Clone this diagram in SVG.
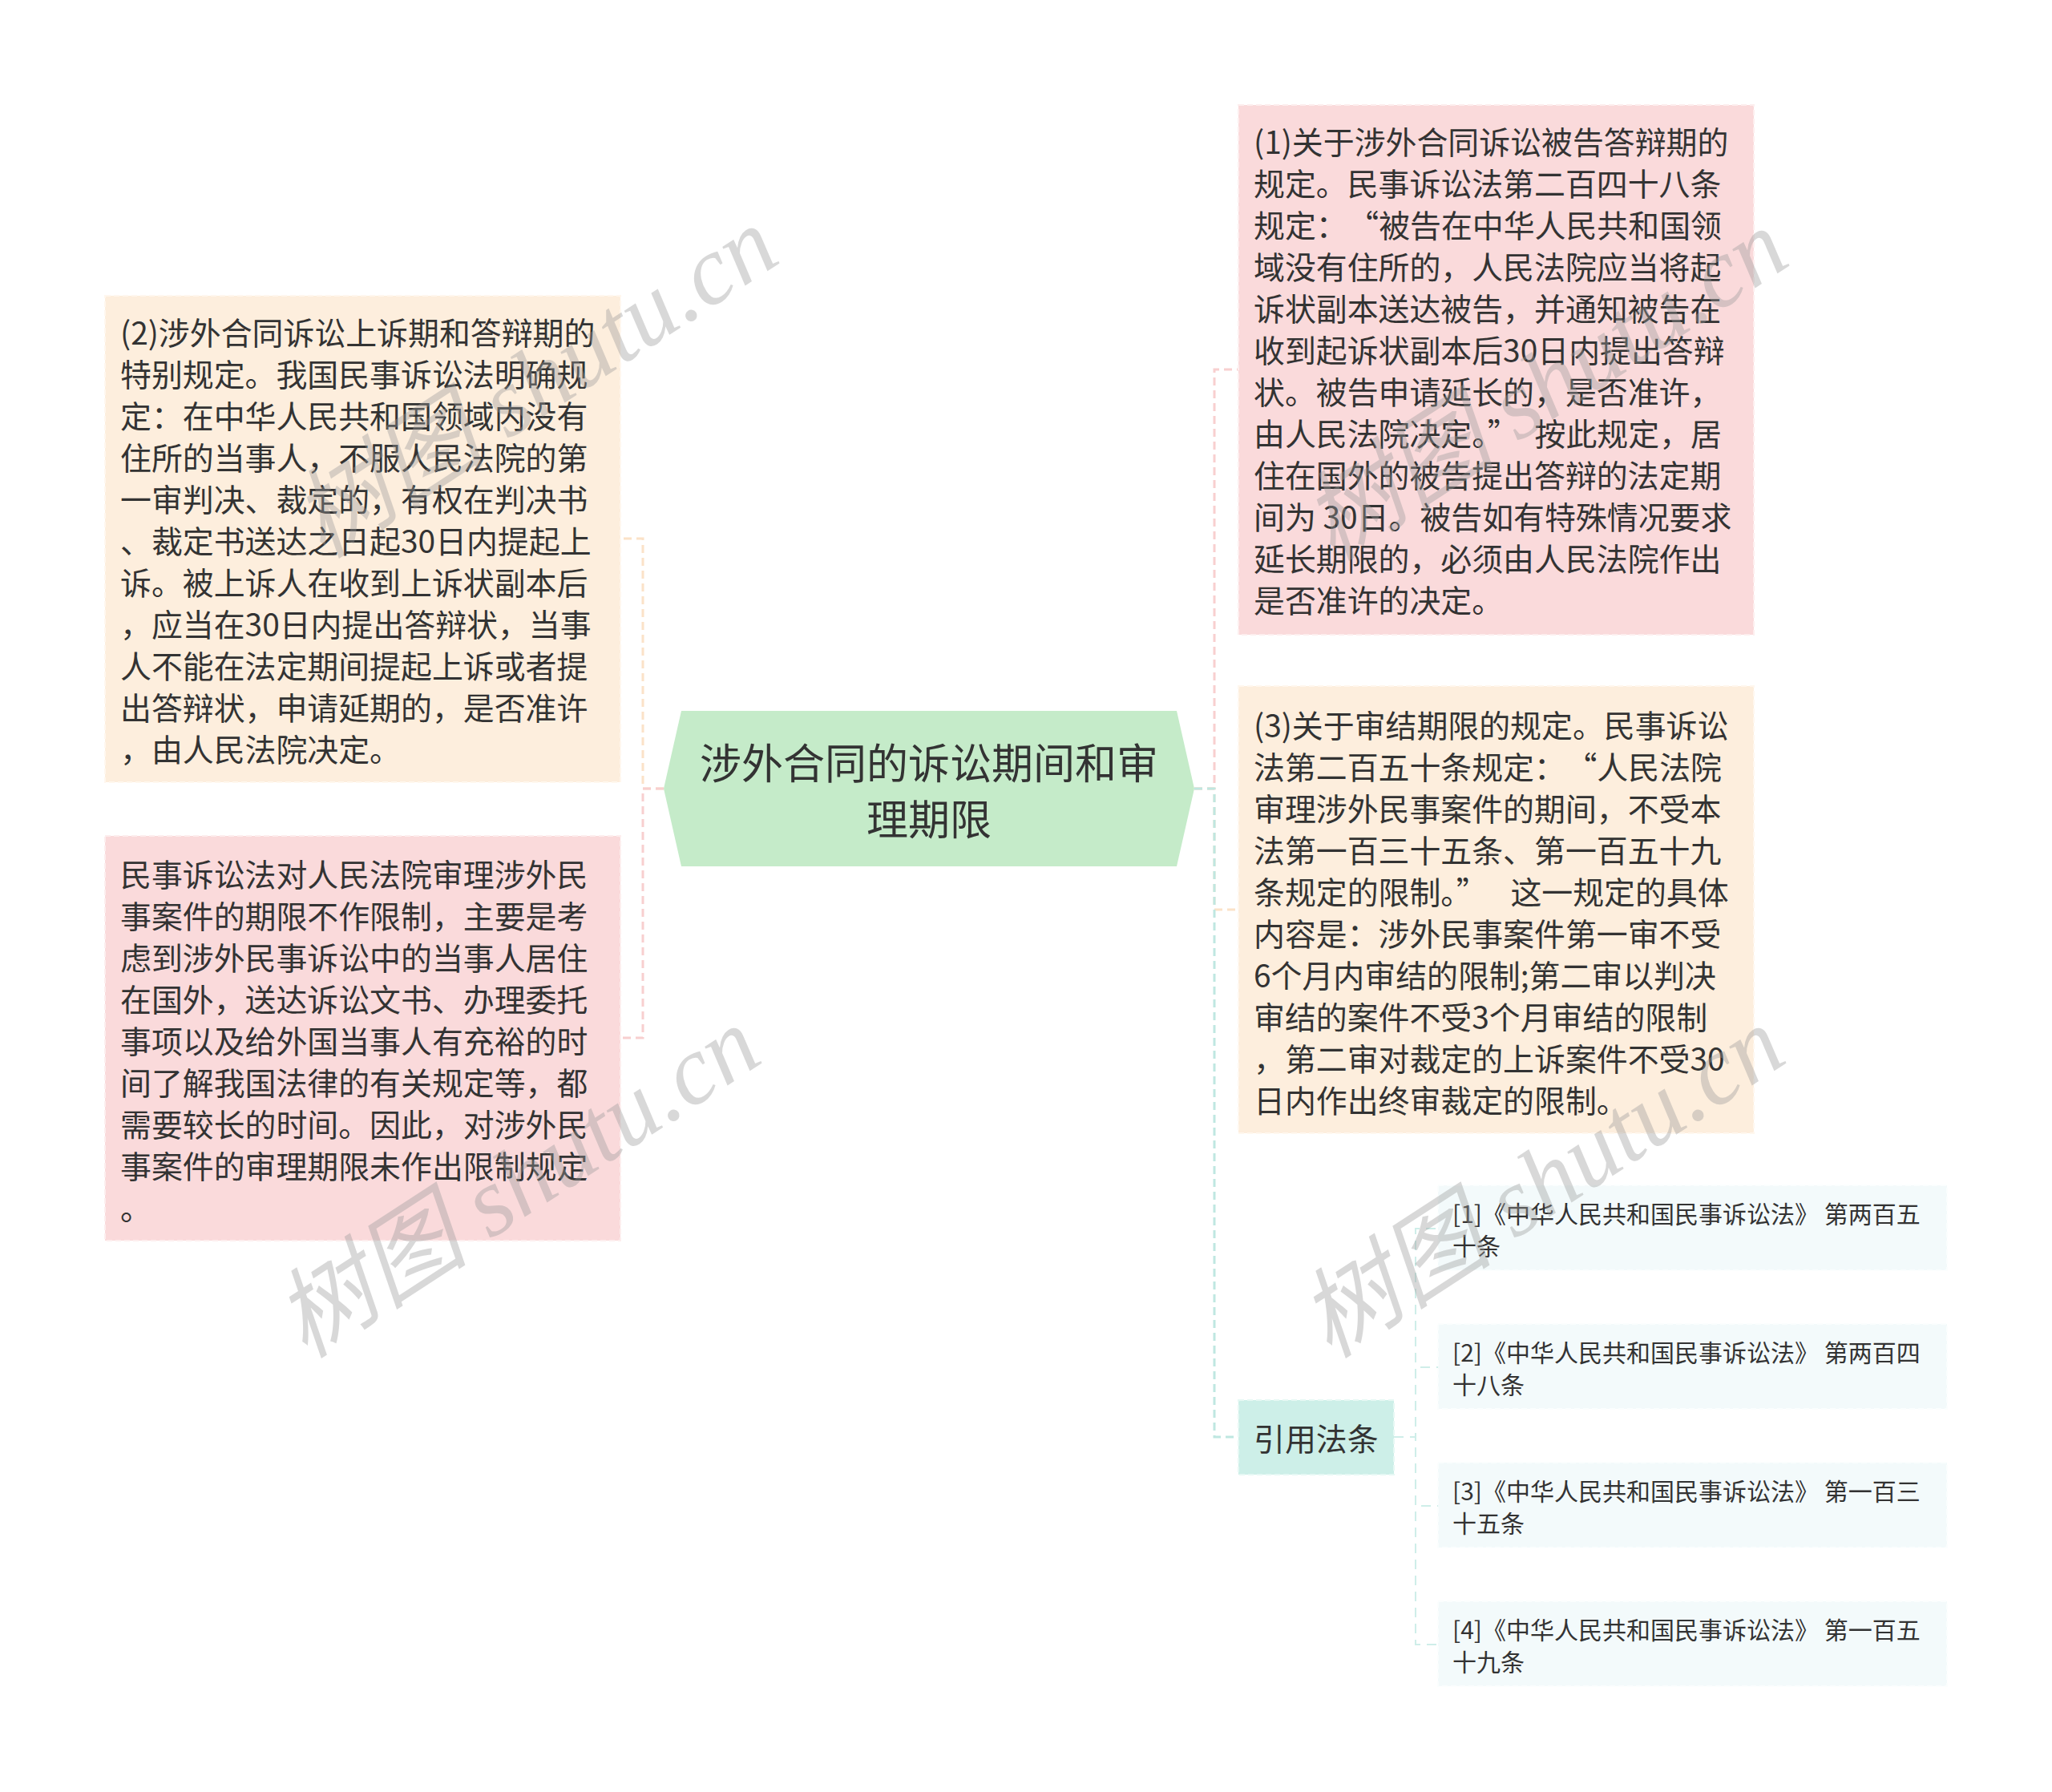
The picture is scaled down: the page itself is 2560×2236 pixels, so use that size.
<svg xmlns="http://www.w3.org/2000/svg" width="2560" height="2236" viewBox="0 0 2560 2236">
<style>
.t{font-family:"Noto Sans CJK SC","Noto Sans",sans-serif;fill:#333;dominant-baseline:central}
.b{font-size:38.9px}
.c{font-size:52px}
.r{font-size:30px}
.peach{fill:#fdeedd;stroke:#fff7ee;stroke-width:2;stroke-dasharray:7 4}
.pink{fill:#fadadb;stroke:#fdeeee;stroke-width:2;stroke-dasharray:7 4}
.teal{fill:#cdefe8;stroke:#e6f8f4;stroke-width:2;stroke-dasharray:7 4}
.ref{fill:#f3fafb;stroke:#fbfefe;stroke-width:2;stroke-dasharray:7 4}
.cp{fill:none;stroke:#f8cfcf;stroke-width:3;stroke-dasharray:10 6}
.ce{fill:none;stroke:#fbe2c8;stroke-width:3;stroke-dasharray:10 6}
.ct{fill:none;stroke:#bfe7e1;stroke-width:3;stroke-dasharray:10 6}
.cr{fill:none;stroke:#cfeee9;stroke-width:2;stroke-dasharray:12 8}
.wm{font-family:"Liberation Serif","Noto Sans CJK SC",serif;font-style:italic;font-size:122px;fill:#9a9a9a;opacity:0.38}
</style>
<rect width="2560" height="2236" fill="#ffffff"/>
<g id="connectors">
<path class="ce" d="M828,984 H802 V672 H774"/>
<path class="cp" d="M828,984 H802 V1295 H774"/>
<path class="cp" d="M1490,984 H1515 V461 H1545"/>
<path class="ce" d="M1490,984 H1515 V1135 H1545"/>
<path class="ct" d="M1490,984 H1515 V1793 H1545"/>
<path class="cr" d="M1739,1793 H1766 V1533 H1794"/>
<path class="cr" d="M1739,1793 H1766 V1706 H1794"/>
<path class="cr" d="M1739,1793 H1766 V1879 H1794"/>
<path class="cr" d="M1739,1793 H1766 V2052 H1794"/>
</g>
<g id="center">
<polygon points="828,984 850,887 1468,887 1490,984 1468,1081 850,1081" fill="#c5ebc9"/>
<text class="t c" x="1159" y="949" text-anchor="middle">涉外合同的诉讼期间和审</text>
<text class="t c" x="1159" y="1019" text-anchor="middle">理期限</text>
</g>
<g id="left1">
<rect class="peach" x="131" y="369" width="643" height="607"/>
<text class="t b" x="150">
<tspan x="150" y="413">(2)涉外合同诉讼上诉期和答辩期的</tspan>
<tspan x="150" y="465">特别规定。我国民事诉讼法明确规</tspan>
<tspan x="150" y="517">定：在中华人民共和国领域内没有</tspan>
<tspan x="150" y="569">住所的当事人，不服人民法院的第</tspan>
<tspan x="150" y="621">一审判决、裁定的，有权在判决书</tspan>
<tspan x="150" y="673">、裁定书送达之日起30日内提起上</tspan>
<tspan x="150" y="725">诉。被上诉人在收到上诉状副本后</tspan>
<tspan x="150" y="777">，应当在30日内提出答辩状，当事</tspan>
<tspan x="150" y="829">人不能在法定期间提起上诉或者提</tspan>
<tspan x="150" y="881">出答辩状，申请延期的，是否准许</tspan>
<tspan x="150" y="933">，由人民法院决定。</tspan>
</text>
</g>
<g id="left2">
<rect class="pink" x="131" y="1043" width="643" height="505"/>
<text class="t b" x="150">
<tspan x="150" y="1089">民事诉讼法对人民法院审理涉外民</tspan>
<tspan x="150" y="1141">事案件的期限不作限制，主要是考</tspan>
<tspan x="150" y="1193">虑到涉外民事诉讼中的当事人居住</tspan>
<tspan x="150" y="1245">在国外，送达诉讼文书、办理委托</tspan>
<tspan x="150" y="1297">事项以及给外国当事人有充裕的时</tspan>
<tspan x="150" y="1349">间了解我国法律的有关规定等，都</tspan>
<tspan x="150" y="1401">需要较长的时间。因此，对涉外民</tspan>
<tspan x="150" y="1453">事案件的审理期限未作出限制规定</tspan>
<tspan x="150" y="1505">。</tspan>
</text>
</g>
<g id="right1">
<rect class="pink" x="1545" y="131" width="643" height="661"/>
<text class="t b" x="1564">
<tspan x="1564" y="175">(1)关于涉外合同诉讼被告答辩期的</tspan>
<tspan x="1564" y="227">规定。民事诉讼法第二百四十八条</tspan>
<tspan x="1564" y="279">规定：<tspan dx="20">“</tspan>被告在中华人民共和国领</tspan>
<tspan x="1564" y="331">域没有住所的，人民法院应当将起</tspan>
<tspan x="1564" y="383">诉状副本送达被告，并通知被告在</tspan>
<tspan x="1564" y="435">收到起诉状副本后30日内提出答辩</tspan>
<tspan x="1564" y="487">状。被告申请延长的，是否准许，</tspan>
<tspan x="1564" y="539">由人民法院决定。”<tspan dx="20">按</tspan>此规定，居</tspan>
<tspan x="1564" y="591">住在国外的被告提出答辩的法定期</tspan>
<tspan x="1564" y="643">间为 30日。被告如有特殊情况要求</tspan>
<tspan x="1564" y="695">延长期限的，必须由人民法院作出</tspan>
<tspan x="1564" y="747">是否准许的决定。</tspan>
</text>
</g>
<g id="right3">
<rect class="peach" x="1545" y="856" width="643" height="558"/>
<text class="t b" x="1564">
<tspan x="1564" y="903">(3)关于审结期限的规定。民事诉讼</tspan>
<tspan x="1564" y="955">法第二百五十条规定：<tspan dx="20">“</tspan>人民法院</tspan>
<tspan x="1564" y="1007">审理涉外民事案件的期间，不受本</tspan>
<tspan x="1564" y="1059">法第一百三十五条、第一百五十九</tspan>
<tspan x="1564" y="1111">条规定的限制。”<tspan dx="20"> </tspan>这一规定的具体</tspan>
<tspan x="1564" y="1163">内容是：涉外民事案件第一审不受</tspan>
<tspan x="1564" y="1215">6个月内审结的限制;第二审以判决</tspan>
<tspan x="1564" y="1267">审结的案件不受3个月审结的限制</tspan>
<tspan x="1564" y="1319">，第二审对裁定的上诉案件不受30</tspan>
<tspan x="1564" y="1371">日内作出终审裁定的限制。</tspan>
</text>
</g>
<g id="cite">
<rect class="teal" x="1545" y="1747" width="194" height="93"/>
<text class="t b" x="1564" y="1793">引用法条</text>
</g>
<g id="ref1">
<rect class="ref" x="1794" y="1479" width="635" height="106"/>
<text class="t r"><tspan x="1812" y="1513">[1]《中华人民共和国民事诉讼法》 第两百五</tspan><tspan x="1812" y="1553">十条</tspan></text>
</g>
<g id="ref2">
<rect class="ref" x="1794" y="1652" width="635" height="106"/>
<text class="t r"><tspan x="1812" y="1686">[2]《中华人民共和国民事诉讼法》 第两百四</tspan><tspan x="1812" y="1726">十八条</tspan></text>
</g>
<g id="ref3">
<rect class="ref" x="1794" y="1825" width="635" height="106"/>
<text class="t r"><tspan x="1812" y="1859">[3]《中华人民共和国民事诉讼法》 第一百三</tspan><tspan x="1812" y="1899">十五条</tspan></text>
</g>
<g id="ref4">
<rect class="ref" x="1794" y="1998" width="635" height="106"/>
<text class="t r"><tspan x="1812" y="2032">[4]《中华人民共和国民事诉讼法》 第一百五</tspan><tspan x="1812" y="2072">十九条</tspan></text>
</g>
<g id="watermarks">
<text class="wm" text-anchor="middle" transform="translate(690,512) rotate(-33)">树图 shutu.cn</text>
<text class="wm" text-anchor="middle" transform="translate(668,1510) rotate(-33)">树图 shutu.cn</text>
<text class="wm" text-anchor="middle" transform="translate(1950,515) rotate(-33)">树图 shutu.cn</text>
<text class="wm" text-anchor="middle" transform="translate(1946,1510) rotate(-33)">树图 shutu.cn</text>
</g>
</svg>
